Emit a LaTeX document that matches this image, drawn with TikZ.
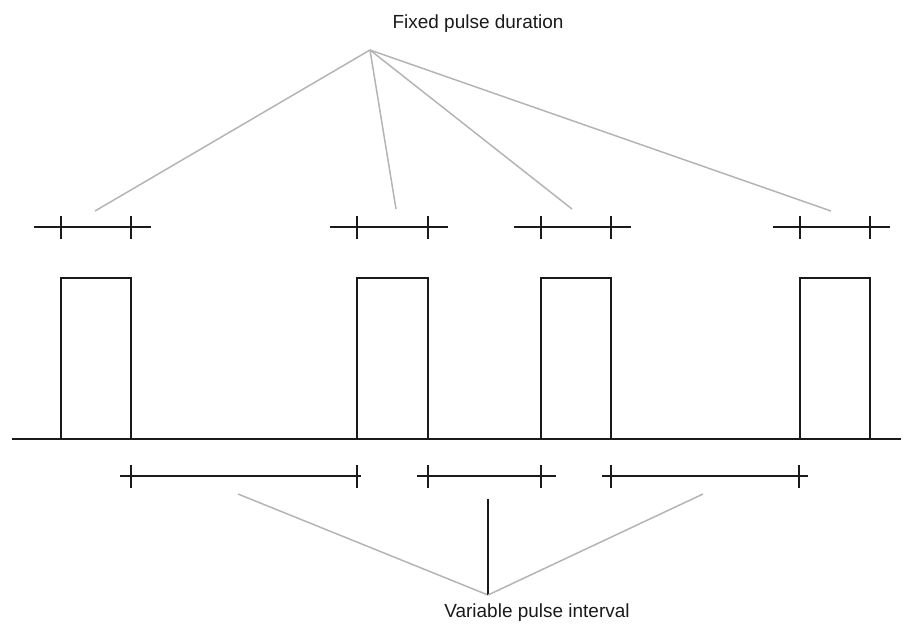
\documentclass[tikz,border=0pt]{standalone}
\usepackage{fontspec}
\setmainfont{Liberation Sans}
\usetikzlibrary{positioning}
\definecolor{PulseInk}{HTML}{1A1A1A}
\definecolor{LeadGray}{HTML}{B4B4B4}
\tikzset{
  % Pulse outline and baseline
  sig/.style={draw=PulseInk, line width=0.85pt},
  % Measuring bar with end ticks
  bar/.style={draw=PulseInk, line width=0.85pt},
  % Pointer from a label to a bar
  lead/.style={draw=LeadGray, line width=0.85pt},
  % Caption text
  lbl/.style={font=\fontsize{10.8}{13}\selectfont, text=PulseInk, inner sep=0pt}
}
\begin{document}
\begin{tikzpicture}[x=0.02cm, y=-0.02cm]
  \useasboundingbox (0,0) rectangle (909,626);

  % Captions and the points their pointers meet in
  \node[lbl] (fixed) at (478,24) {Fixed pulse duration};
  \node[lbl] (var)   at (537,613) {Variable pulse interval};
  \coordinate (ftop) at (370,50);
  \coordinate (vbot) at (488,595);

  % Baseline and pulses
  \draw[sig] (12,439) -- (901,439);
  \foreach \a/\b in {61/131, 357/428, 541/611, 800/870}
    \draw[sig] (\a,439) -- (\a,278) -- (\b,278) -- (\b,439);

  % Duration bars above the pulses
  \foreach \a/\b in {61/131, 357/428, 541/611, 800/870} {
    \draw[bar] (\a-27,227) -- (\b+20,227);
    \draw[bar] (\a,216) -- (\a,239);
    \draw[bar] (\b,216) -- (\b,239);
  }

  % Interval bars below the baseline
  \foreach \l/\a/\b/\r in {120/131/357/361, 417/428/541/556, 602/611/799/808} {
    \draw[bar] (\l,476) -- (\r,476);
    \draw[bar] (\a,465) -- (\a,488);
    \draw[bar] (\b,465) -- (\b,488);
  }

  % Pointers to the duration bars
  \coordinate (d1) at (95,211);
  \coordinate (d2) at (396,209);
  \coordinate (d3) at (572,209);
  \coordinate (d4) at (831,211);
  \foreach \p in {d1,d2,d3,d4}
    \draw[lead] (ftop) -- (\p);

  % Pointers to the interval bars
  \coordinate (i1) at (238,494);
  \coordinate (i2) at (488,499);
  \coordinate (i3) at (703,494);
  \draw[lead] (vbot) -- (i1);
  \draw[sig]  (vbot) -- (i2);
  \draw[lead] (vbot) -- (i3);
\end{tikzpicture}
\end{document}
